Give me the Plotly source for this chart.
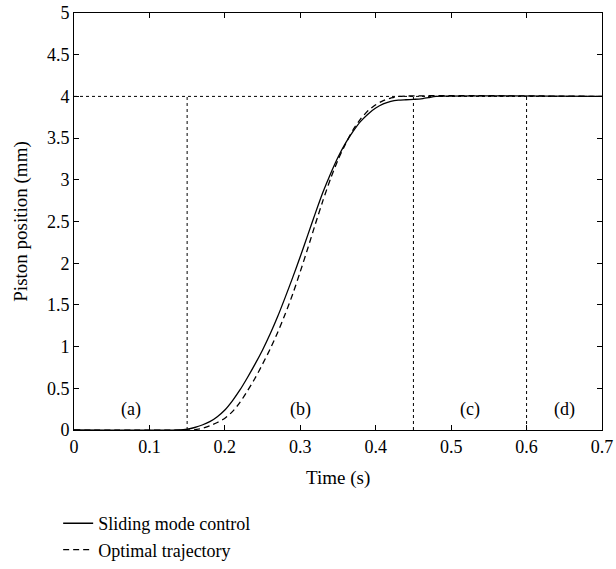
import plotly.graph_objects as go

# Sliding mode control (solid)
t_smc = [0, 0.139, 0.15, 0.16, 0.17, 0.18, 0.19, 0.20, 0.21, 0.22, 0.23, 0.24, 0.25, 0.26,
         0.27, 0.28, 0.29, 0.30, 0.31, 0.32, 0.33, 0.34, 0.35, 0.36, 0.37, 0.38, 0.39,
         0.40, 0.41, 0.42, 0.43, 0.44, 0.45, 0.46, 0.47, 0.48, 0.7]
y_smc = [0, 0, 0.01, 0.03, 0.06, 0.10, 0.16, 0.24, 0.35, 0.48, 0.63, 0.79, 0.96, 1.15,
         1.36, 1.59, 1.83, 2.08, 2.34, 2.60, 2.85, 3.07, 3.27, 3.44, 3.58, 3.70, 3.79,
         3.86, 3.91, 3.94, 3.955, 3.96, 3.965, 3.97, 3.985, 4.0, 4.0]

# Optimal trajectory (dashed)
t_opt = [0, 0.15, 0.16, 0.17, 0.18, 0.19, 0.20, 0.21, 0.22, 0.23, 0.24, 0.25, 0.26, 0.27,
         0.28, 0.29, 0.30, 0.31, 0.32, 0.33, 0.34, 0.35, 0.36, 0.37, 0.38, 0.39, 0.40,
         0.41, 0.42, 0.43, 0.7]
y_opt = [0, 0, 0.005, 0.02, 0.05, 0.09, 0.14, 0.22, 0.33, 0.47, 0.62, 0.79, 0.97, 1.17,
         1.39, 1.63, 1.90, 2.18, 2.47, 2.75, 3.01, 3.24, 3.43, 3.60, 3.73, 3.83, 3.90,
         3.95, 3.98, 4.0, 4.0]

phase_bounds = [0.15, 0.45, 0.6]
target = 4.0
phase_labels = ["(a)", "(b)", "(c)", "(d)"]
phase_label_x = [0.075, 0.30, 0.525, 0.65]
phase_label_y = 0.25

FONT = "Liberation Serif, Times New Roman, serif"

fig = go.Figure()
fig.add_trace(go.Scatter(x=t_smc, y=y_smc, mode="lines", name="Sliding mode control",
                         line=dict(color="black", width=1.3, shape="spline", smoothing=0.6)))
fig.add_trace(go.Scatter(x=t_opt, y=y_opt, mode="lines", name="Optimal trajectory",
                         line=dict(color="black", width=1.3, dash="6px,4px", shape="spline",
                                   smoothing=0.6)))

for xb in phase_bounds:
    fig.add_shape(type="line", x0=xb, x1=xb, y0=0, y1=target, xref="x", yref="y",
                  line=dict(color="black", width=1, dash="dot"), layer="below")
fig.add_shape(type="line", x0=0, x1=0.7, y0=target, y1=target, xref="x", yref="y",
              line=dict(color="black", width=1, dash="dot"), layer="below")

for lx, lt in zip(phase_label_x, phase_labels):
    fig.add_annotation(x=lx, y=phase_label_y, text=lt, showarrow=False,
                       font=dict(family=FONT, size=18, color="black"))

# x-axis title placed as paper annotation
fig.add_annotation(x=0.5, y=-0.115, xref="paper", yref="paper", text="Time (s)",
                   showarrow=False, xanchor="center", yanchor="middle",
                   font=dict(family=FONT, size=19, color="black"))

axis_common = dict(showgrid=False, zeroline=False, showline=True, linecolor="black",
                   linewidth=1, mirror="allticks", ticks="inside", ticklen=5,
                   tickcolor="black", tickfont=dict(family=FONT, size=18, color="black"),
                   automargin=False)

fig.update_xaxes(range=[0, 0.7], dtick=0.1, **axis_common)
fig.update_yaxes(range=[0, 5], dtick=0.5,
                 title=dict(text="Piston position (mm)",
                            font=dict(family=FONT, size=19, color="black"), standoff=14),
                 **axis_common)

fig.update_layout(
    width=616, height=569,
    margin=dict(l=74, r=14, t=13, b=139, autoexpand=False),
    plot_bgcolor="white", paper_bgcolor="white",
    font=dict(family=FONT, size=18, color="black"),
    showlegend=True,
    legend=dict(x=-0.03, y=-0.18, xanchor="left", yanchor="top",
                bgcolor="rgba(0,0,0,0)", font=dict(family=FONT, size=18),
                tracegroupgap=0, itemwidth=30),
)

fig.write_html("out.html")
